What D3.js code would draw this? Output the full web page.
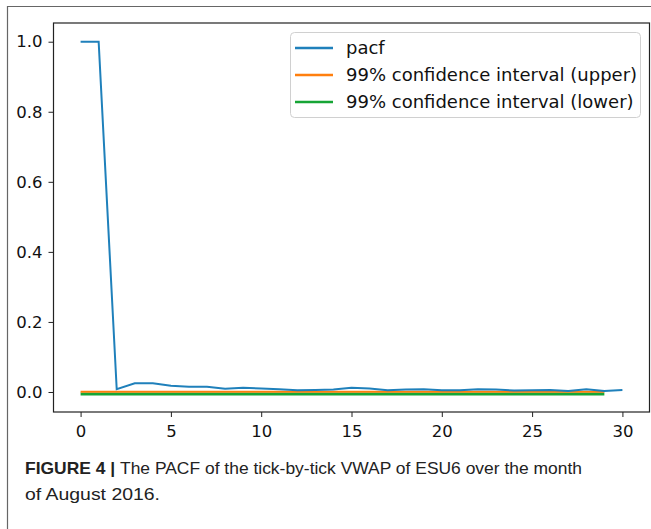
<!DOCTYPE html>
<html>
<head>
<meta charset="utf-8">
<script src="https://cdn.jsdelivr.net/npm/d3@7"></script>
<style>
  body { margin: 0; background: #fff; }
  svg { display: block; }
</style>
</head>
<body>
<svg id="chart" width="651" height="529"></svg>
<script>
// lags and values
var lags = d3.range(0, 31);
var pacf = [1.0, 1.0, 0.008, 0.025, 0.025, 0.018, 0.015, 0.015, 0.009, 0.012, 0.01,
            0.008, 0.005, 0.006, 0.007, 0.012, 0.01, 0.005, 0.007, 0.008, 0.005,
            0.005, 0.008, 0.007, 0.004, 0.005, 0.006, 0.003, 0.008, 0.003, 0.006];
var ciLags = d3.range(0, 30);
var ciUpper = ciLags.map(function(){ return 0.001; });
var ciLower = ciLags.map(function(){ return -0.006; });
var xTicks = [0, 5, 10, 15, 20, 25, 30];
var yTicks = [0.0, 0.2, 0.4, 0.6, 0.8, 1.0];
var seriesNames = ["pacf", "99% confidence interval (upper)", "99% confidence interval (lower)"];
var seriesColors = ["#1f80bb", "#ff7f0e", "#16a535"];

var svg = d3.select("#chart");

// outer figure frame
svg.append("path")
  .attr("d", "M7.5,540 V6.5 H660")
  .attr("fill", "none")
  .attr("stroke", "#666")
  .attr("stroke-width", 1.2);

var x = d3.scaleLinear().domain([-1.5, 31.5]).range([53.5, 649.5]);
var y = d3.scaleLinear().domain([-0.0571, 1.0534]).range([412, 23]);

var tickFont = "'DejaVu Sans', sans-serif";

// axes
var gx = svg.append("g")
  .attr("transform", "translate(0," + y.range()[0] + ")")
  .call(d3.axisBottom(x).tickValues(xTicks).tickSize(5).tickPadding(8).tickFormat(d3.format("d")));
var gy = svg.append("g")
  .attr("transform", "translate(" + x.range()[0] + ",0)")
  .call(d3.axisLeft(y).tickValues(yTicks).tickSize(5).tickPadding(6).tickFormat(d3.format(".1f")));
[gx, gy].forEach(function(g){
  g.select(".domain").remove();
  g.selectAll("line").attr("stroke", "#222");
  g.selectAll("text").attr("font-family", tickFont).attr("font-size", 16.5).attr("fill", "#111");
});

// lines
var line = d3.line().x(function(d){ return x(d[0]); }).y(function(d){ return y(d[1]); });

svg.append("path")
  .datum(ciLags.map(function(l, i){ return [l, ciLower[i]]; }))
  .attr("d", line).attr("fill", "none")
  .attr("stroke", seriesColors[2]).attr("stroke-width", 3);
svg.append("path")
  .datum(ciLags.map(function(l, i){ return [l, ciUpper[i]]; }))
  .attr("d", line).attr("fill", "none")
  .attr("stroke", seriesColors[1]).attr("stroke-width", 2);
svg.append("path")
  .datum(lags.map(function(l, i){ return [l, pacf[i]]; }))
  .attr("d", line).attr("fill", "none")
  .attr("stroke", seriesColors[0]).attr("stroke-width", 2);

// plot frame
svg.append("rect")
  .attr("x", x.range()[0]).attr("y", y.range()[1])
  .attr("width", x.range()[1] - x.range()[0])
  .attr("height", y.range()[0] - y.range()[1])
  .attr("fill", "none").attr("stroke", "#222").attr("stroke-width", 1.2);

// legend
var lg = svg.append("g");
lg.append("rect")
  .attr("x", 290.5).attr("y", 32.5).attr("width", 350).attr("height", 85)
  .attr("rx", 4).attr("fill", "#fff").attr("fill-opacity", 0.8)
  .attr("stroke", "#d0d0d0");
seriesNames.forEach(function(name, i){
  var cy = 48 + i * 27;
  lg.append("line")
    .attr("x1", 295).attr("x2", 333).attr("y1", cy).attr("y2", cy)
    .attr("stroke", seriesColors[i]).attr("stroke-width", 2.5);
  lg.append("text")
    .attr("x", 346).attr("y", cy + 6)
    .attr("font-family", tickFont).attr("font-size", 18).attr("fill", "#111")
    .text(name);
});

// caption
var capFont = "'Liberation Sans', Arial, sans-serif";
var cap1 = svg.append("text")
  .attr("x", 25).attr("y", 474)
  .attr("font-family", capFont).attr("font-size", 17).attr("fill", "#222")
  .attr("textLength", 557).attr("lengthAdjust", "spacingAndGlyphs");
cap1.append("tspan").attr("font-weight", "bold").text("FIGURE 4 | ");
cap1.append("tspan").text("The PACF of the tick-by-tick VWAP of ESU6 over the month");
svg.append("text")
  .attr("x", 25).attr("y", 500)
  .attr("font-family", capFont).attr("font-size", 17).attr("fill", "#222")
  .attr("textLength", 135).attr("lengthAdjust", "spacingAndGlyphs")
  .text("of August 2016.");
</script>
</body>
</html>
